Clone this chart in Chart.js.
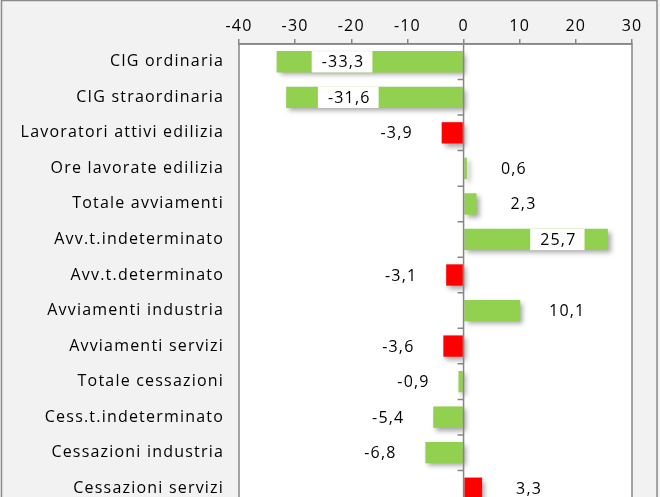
<!DOCTYPE html>
<html>
<head>
<meta charset="utf-8">
<script src="https://cdn.jsdelivr.net/npm/chart.js@4.4.1/dist/chart.umd.min.js"></script>
<style>
  html, body { margin: 0; padding: 0; background: #f2f2f2; overflow: hidden; }
  canvas { display: block; }
</style>
</head>
<body>
<canvas id="chart" width="660" height="506"></canvas>
<script>
const categories = [
    'CIG ordinaria',
    'CIG straordinaria',
    'Lavoratori attivi edilizia',
    'Ore lavorate edilizia',
    'Totale avviamenti',
    'Avv.t.indeterminato',
    'Avv.t.determinato',
    'Avviamenti industria',
    'Avviamenti servizi',
    'Totale cessazioni',
    'Cess.t.indeterminato',
    'Cessazioni industria',
    'Cessazioni servizi'
];
const values = [-33.3, -31.6, -3.9, 0.6, 2.3, 25.7, -3.1, 10.1, -3.6, -0.9, -5.4, -6.8, 3.3];
const xTicks = [-40, -30, -20, -10, 0, 10, 20, 30];

const GREEN = '#92d050';
const RED = '#ff0000';
const barColors = [GREEN, GREEN, RED, GREEN, GREEN, GREEN, RED, GREEN, RED, GREEN, GREEN, GREEN, RED];

const FONT = { family: '"Open Sans", sans-serif', size: 16 };
const SPACING = '1.2px';
const AXIS_GRAY = '#868686';

function fmt(v) {
    return v.toFixed(1).replace('.', ',');
}

// wide letter spacing like the original
const spacing = {
    id: 'spacing',
    beforeUpdate(chart) { chart.ctx.letterSpacing = SPACING; },
    beforeDraw(chart) { chart.ctx.letterSpacing = SPACING; }
};

// page background + outer frame
const frame = {
    id: 'frame',
    beforeDraw(chart) {
        const ctx = chart.ctx;
        ctx.save();
        ctx.fillStyle = '#f2f2f2';
        ctx.fillRect(0, 0, chart.width, chart.height);
        ctx.strokeStyle = '#8a8a8a';
        ctx.lineWidth = 1.5;
        ctx.beginPath();
        ctx.moveTo(1.5, chart.height);
        ctx.lineTo(1.5, 0.5);
        ctx.lineTo(657, 0.5);
        ctx.lineTo(657, chart.height);
        ctx.stroke();
        const a = chart.chartArea;
        ctx.fillStyle = '#ffffff';
        ctx.fillRect(a.left, a.top, a.right - a.left, a.bottom - a.top);
        ctx.restore();
    }
};

// soft drop shadow under the bars
const barShadow = {
    id: 'barShadow',
    beforeDatasetsDraw(chart) {
        const ctx = chart.ctx;
        ctx.save();
        ctx.shadowColor = 'rgba(0,0,0,0.35)';
        ctx.shadowBlur = 5;
        ctx.shadowOffsetX = 3;
        ctx.shadowOffsetY = 3;
    },
    afterDatasetsDraw(chart) {
        chart.ctx.restore();
    }
};

// plot border, zero axis tick marks and value labels
const overlay = {
    id: 'overlay',
    afterDatasetsDraw(chart) {
        const ctx = chart.ctx;
        const a = chart.chartArea;
        const xs = chart.scales.x;
        const x0 = xs.getPixelForValue(0);
        const meta = chart.getDatasetMeta(0);

        ctx.save();
        ctx.strokeStyle = AXIS_GRAY;
        ctx.lineWidth = 1.5;
        ctx.strokeRect(a.left, a.top, a.right - a.left, a.bottom - a.top);

        const step = (a.bottom - a.top) / categories.length;
        ctx.beginPath();
        ctx.moveTo(x0, a.top);
        ctx.lineTo(x0, a.bottom);
        for (let i = 1; i <= categories.length; i++) {
            const y = a.top + i * step;
            ctx.moveTo(x0 - 6, y);
            ctx.lineTo(x0, y);
        }
        ctx.stroke();

        ctx.font = FONT.size + 'px ' + FONT.family;
        ctx.letterSpacing = SPACING;
        ctx.textAlign = 'center';
        ctx.textBaseline = 'middle';
        meta.data.forEach((bar, i) => {
            const v = values[i];
            const text = fmt(v);
            let cx;
            if (Math.abs(v) > 20) {
                cx = xs.getPixelForValue(v * 0.65);
                const w = ctx.measureText(text).width + 18;
                const h = bar.height;
                ctx.fillStyle = '#ffffff';
                ctx.fillRect(cx - w / 2, bar.y - h / 2, w, h);
            } else {
                cx = bar.x + (v < 0 ? -46 : 46);
            }
            ctx.fillStyle = '#000000';
            ctx.fillText(text, cx + 1, bar.y + 1);
        });
        ctx.restore();
    }
};

new Chart(document.getElementById('chart'), {
    type: 'bar',
    data: {
        labels: categories,
        datasets: [{
            data: values,
            backgroundColor: barColors,
            borderWidth: 0,
            barPercentage: 0.6,
            categoryPercentage: 1.0
        }]
    },
    options: {
        indexAxis: 'y',
        responsive: false,
        animation: false,
        layout: { padding: { left: 0, right: 28, top: 0, bottom: 0 } },
        plugins: {
            legend: { display: false },
            tooltip: { enabled: false }
        },
        scales: {
            x: {
                position: 'top',
                min: -40,
                max: 30,
                afterBuildTicks: scale => {
                    scale.ticks = xTicks.map(v => ({ value: v }));
                },
                afterFit: scale => { scale.height = 44; },
                ticks: {
                    color: '#000000',
                    font: FONT,
                    padding: 3,
                    maxRotation: 0
                },
                grid: {
                    color: 'transparent',
                    tickColor: AXIS_GRAY,
                    tickLength: 5,
                    lineWidth: 1.5
                },
                border: { display: true, color: AXIS_GRAY, width: 1.5 }
            },
            y: {
                afterFit: scale => {
                    scale.width = 239;
                    scale.paddingTop = 0;
                    scale.paddingBottom = 0;
                },
                ticks: {
                    color: '#000000',
                    font: FONT,
                    padding: 15
                },
                grid: { display: false, drawTicks: false },
                border: { display: false }
            }
        }
    },
    plugins: [spacing, frame, barShadow, overlay]
});
</script>
</body>
</html>
